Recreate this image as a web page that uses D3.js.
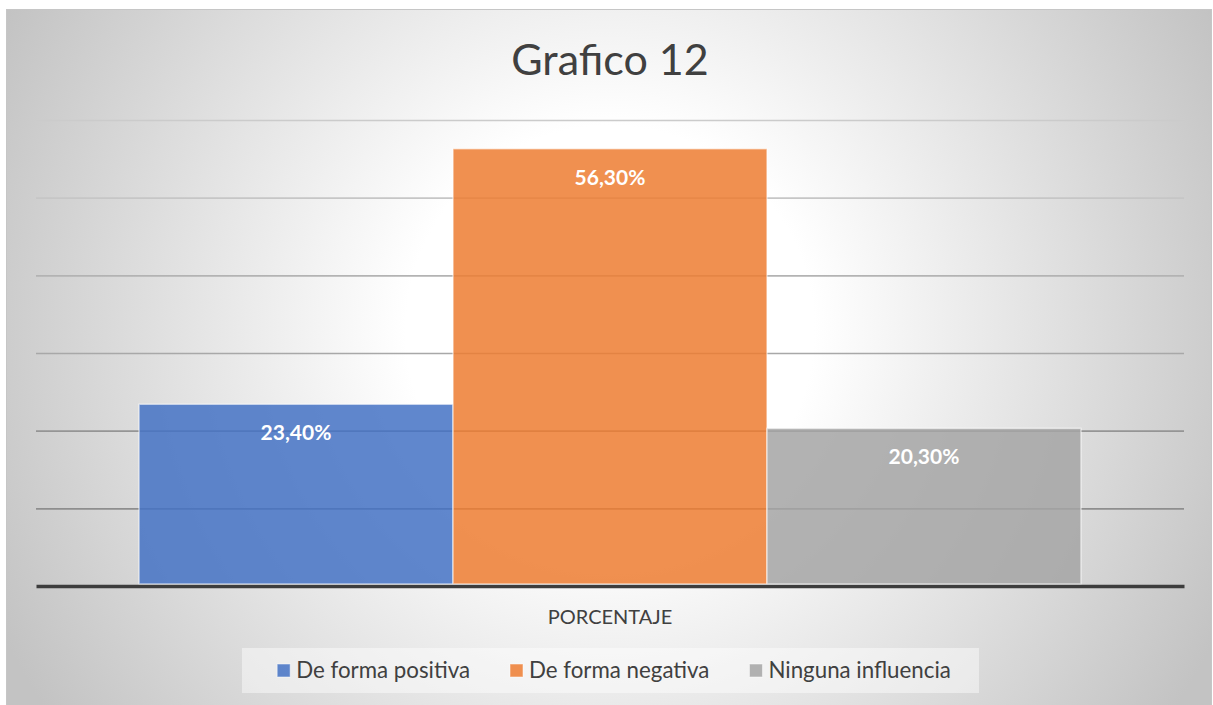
<!DOCTYPE html>
<html>
<head>
<meta charset="utf-8">
<script src="https://cdn.jsdelivr.net/npm/d3@7"></script>
<style>
  html, body { margin: 0; padding: 0; background: #ffffff; }
  svg { display: block; }
  text { font-family: Lato, "Open Sans", sans-serif; }
</style>
</head>
<body>
<svg id="chart" width="1213" height="705"></svg>
<script>
// ---- data ----
const title = "Grafico 12";
const categories = ["PORCENTAJE"];
const seriesNames = ["De forma positiva", "De forma negativa", "Ninguna influencia"];
const seriesValues = [0.234, 0.563, 0.203];
const valueLabels = ["23,40%", "56,30%", "20,30%"];
const seriesColors = ["#4472C4", "#ED7D31", "#A5A5A5"];
const yTicks = [0.1, 0.2, 0.3, 0.4, 0.5, 0.6];
const gridColors = ["#8e8e8e", "#959595", "#a8a8a8", "#b3b3b3", "#c6c6c6", "#cbcbcb"];

const W = 1213, H = 705;
const svg = d3.select("#chart");
const defs = svg.append("defs");

// background radial gradient
const rg = defs.append("radialGradient")
  .attr("id", "bg")
  .attr("gradientUnits", "userSpaceOnUse")
  .attr("cx", 610).attr("cy", 330).attr("r", 680);
rg.append("stop").attr("offset", 0).attr("stop-color", "#ffffff");
rg.append("stop").attr("offset", 0.3).attr("stop-color", "#ffffff");
rg.append("stop").attr("offset", 1).attr("stop-color", "#c3c3c3");

svg.append("rect").attr("x", 6).attr("y", 9).attr("width", W - 7).attr("height", H - 9)
  .attr("fill", "url(#bg)");
svg.append("rect").attr("x", 6.5).attr("y", 9.5).attr("width", W - 8).attr("height", H - 9)
  .attr("fill", "none").attr("stroke", "#c6c6c6").attr("stroke-width", 1);

// scales
const plotLeft = 36, plotRight = 1184, plotTop = 120, plotBottom = 586;
const x0 = d3.scaleBand().domain(categories).range([plotLeft, plotRight]).padding(0.0986);
const x1 = d3.scaleBand().domain(seriesNames).range([0, x0.bandwidth()]).padding(0);
const y = d3.scaleLinear().domain([0, 0.6]).range([plotBottom, plotTop]);

// gridlines
const gridAxis = d3.axisLeft(y).tickValues(yTicks).tickSize(-(plotRight - plotLeft)).tickFormat("");
const gG = svg.append("g").attr("transform", `translate(${plotLeft},0)`).call(gridAxis);
gG.select(".domain").remove();
gG.selectAll(".tick line")
  .attr("stroke", (d, i) => gridColors[i])
  .attr("stroke-width", 1.6);

// bars
const barG = svg.append("g");
categories.forEach(cat => {
  seriesNames.forEach((s, i) => {
    barG.append("rect")
      .attr("x", x0(cat) + x1(s))
      .attr("y", y(seriesValues[i]))
      .attr("width", x1.bandwidth())
      .attr("height", y(0) - y(seriesValues[i]) - 2)
      .attr("fill", seriesColors[i])
      .attr("fill-opacity", 0.85)
      .attr("stroke", "#ffffff")
      .attr("stroke-opacity", 0.55)
      .attr("stroke-width", 1.5);
    barG.append("text")
      .attr("x", x0(cat) + x1(s) + x1.bandwidth() / 2)
      .attr("y", y(seriesValues[i]) + 36)
      .attr("text-anchor", "middle")
      .attr("fill", "#ffffff")
      .attr("font-weight", "bold")
      .attr("font-size", 21)
      .text(valueLabels[i]);
  });
});

// baseline / x axis
const xAxis = d3.axisBottom(x0).tickSize(0).tickPadding(20);
const xG = svg.append("g").attr("transform", `translate(0,${plotBottom})`).call(xAxis);
xG.select(".domain").attr("stroke", "#3d3d3d").attr("stroke-width", 3.5);
xG.selectAll(".tick text")
  .attr("font-family", "Lato, sans-serif")
  .attr("font-size", 20)
  .attr("fill", "#404040")
  .attr("dy", "0.9em");

// title
svg.append("text")
  .attr("x", 610).attr("y", 75)
  .attr("text-anchor", "middle")
  .attr("font-size", 43)
  .attr("fill", "#404040")
  .text(title);

// legend
const legG = svg.append("g");
legG.append("rect")
  .attr("x", 242).attr("y", 648).attr("width", 737).attr("height", 45)
  .attr("fill", "#ffffff").attr("fill-opacity", 0.45);
const items = legG.selectAll("g.item").data(seriesNames).join("g").attr("class", "item");
items.append("rect")
  .attr("width", 13).attr("height", 13)
  .attr("fill", (d, i) => seriesColors[i]).attr("fill-opacity", 0.85)
  .attr("stroke", "#ffffff").attr("stroke-opacity", 0.5).attr("stroke-width", 1);
items.append("text")
  .attr("x", 19).attr("y", 14)
  .attr("font-size", 22.3)
  .attr("fill", "#404040")
  .text(d => d);
const widths = [];
items.select("text").each(function() { widths.push(this.getComputedTextLength()); });
const gap = 40;
const total = d3.sum(widths) + seriesNames.length * 19 + gap * (seriesNames.length - 1);
let cx = 614 - total / 2;
items.each(function(d, i) {
  d3.select(this).attr("transform", `translate(${cx},664)`);
  cx += 19 + widths[i] + gap;
});
</script>
</body>
</html>
